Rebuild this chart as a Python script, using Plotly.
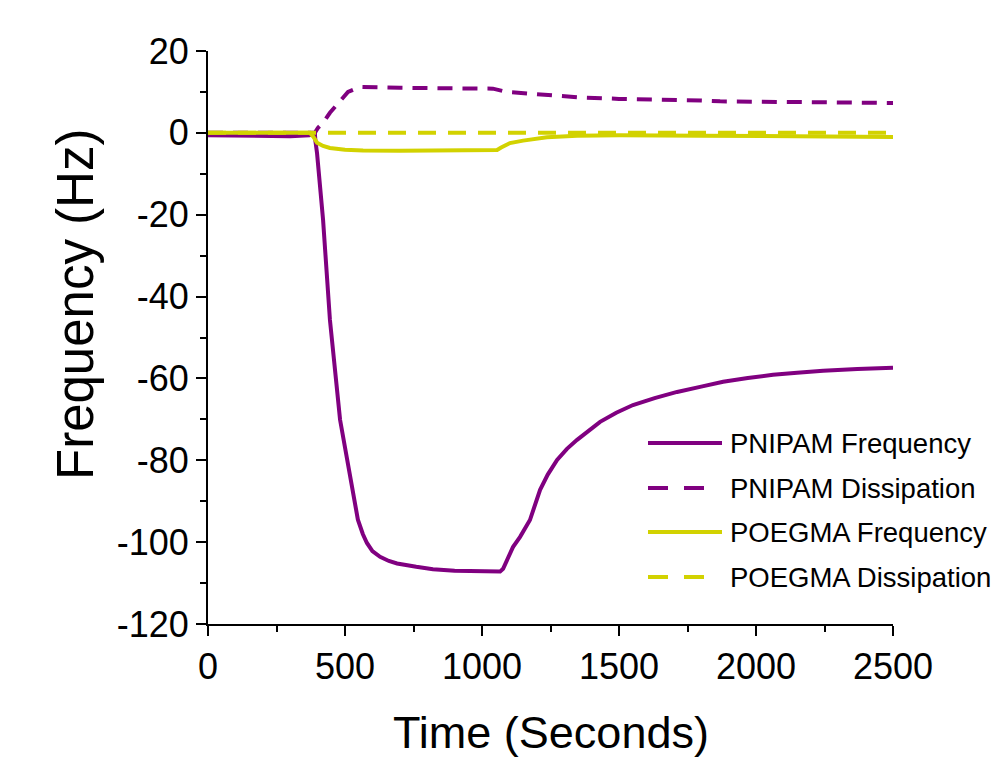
import plotly.graph_objects as go

# ---------------- data ----------------
pnipam_freq_t = [0, 100, 200, 300, 370, 390, 392, 398, 420, 445, 482, 526, 547, 565, 580,
                 600, 628, 660, 690, 760, 821, 900, 1000, 1066, 1077, 1102, 1113, 1139,
                 1175, 1212, 1240, 1274, 1310, 1347, 1390, 1431, 1490, 1551, 1630, 1712,
                 1800, 1880, 1970, 2062, 2150, 2245, 2370, 2500]
pnipam_freq_v = [-0.6, -0.7, -0.6, -0.8, -0.6, 0.0, -2.0, -5.0, -21.3, -45.7, -70.1, -86.5,
                 -94.5, -98.0, -100.2, -102.2, -103.6, -104.6, -105.2, -106.0, -106.6,
                 -107.0, -107.0, -107.2, -106.5, -102.6, -101.2, -98.7, -94.6, -87.2,
                 -83.5, -79.9, -77.2, -75.0, -72.6, -70.6, -68.4, -66.5, -64.8, -63.3,
                 -62.0, -60.8, -59.9, -59.1, -58.6, -58.1, -57.7, -57.4]

pnipam_diss_t = [0, 200, 390, 401, 420, 445, 470, 489, 511, 540, 562, 700, 900, 1040, 1091,
                 1186, 1285, 1347, 1500, 1613, 1800, 1869, 2124, 2300, 2500]
pnipam_diss_v = [0.0, 0.0, 0.0, 1.2, 2.5, 4.9, 6.8, 8.0, 10.0, 10.8, 11.2, 11.0, 10.9, 10.8,
                 10.0, 9.5, 9.0, 8.7, 8.3, 8.2, 7.9, 7.7, 7.6, 7.4, 7.3]

poegma_freq_t = [0, 100, 200, 300, 372, 385, 398, 420, 445, 500, 566, 700, 900, 1055, 1070,
                 1102, 1150, 1237, 1347, 1500, 1800, 2100, 2500]
poegma_freq_v = [0.0, 0.0, 0.0, 0.0, 0.0, -1.0, -2.4, -3.2, -3.7, -4.1, -4.3, -4.4, -4.4,
                 -4.2, -3.6, -2.5, -1.9, -1.1, -0.7, -0.6, -0.7, -0.8, -1.0]

poegma_diss_t = [0, 500, 1000, 1500, 2000, 2500]
poegma_diss_v = [0.0, 0.0, 0.0, 0.0, 0.0, 0.0]

series_names = ["PNIPAM Frequency", "PNIPAM Dissipation", "POEGMA Frequency", "POEGMA Dissipation"]

x_ticks = [0, 500, 1000, 1500, 2000, 2500]
y_ticks = [20, 0, -20, -40, -60, -80, -100, -120]

# ---------------- style ----------------
PURPLE = "#800080"
YELLOW = "#d2d200"
FONT = "Liberation Sans, Arial, sans-serif"
W, H = 1000, 764
L, R, T, B = 208, 107, 51, 140
PW, PH = W - L - R, H - T - B


def px(xp):
    return (xp - L) / PW


def py(yp):
    return (H - B - yp) / PH


fig = go.Figure()
fig.add_trace(go.Scatter(x=pnipam_freq_t, y=pnipam_freq_v, mode="lines", name=series_names[0],
                         line=dict(color=PURPLE, width=4)))
fig.add_trace(go.Scatter(x=pnipam_diss_t, y=pnipam_diss_v, mode="lines", name=series_names[1],
                         line=dict(color=PURPLE, width=4, dash="15px,10px")))
fig.add_trace(go.Scatter(x=poegma_freq_t, y=poegma_freq_v, mode="lines", name=series_names[2],
                         line=dict(color=YELLOW, width=4)))
fig.add_trace(go.Scatter(x=poegma_diss_t, y=poegma_diss_v, mode="lines", name=series_names[3],
                         line=dict(color=YELLOW, width=4, dash="18px,12px")))

axis_common = dict(
    showgrid=False, zeroline=False, showline=True, linecolor="black", linewidth=2,
    ticks="outside", ticklen=10, tickwidth=2, tickcolor="black",
    tickfont=dict(family=FONT, size=36, color="black"),
)
fig.update_xaxes(range=[0, 2500], tickvals=x_ticks, ticktext=[str(v) for v in x_ticks],
                 minor=dict(ticks="outside", ticklen=6, tickwidth=2, tickcolor="black",
                            tickvals=[250, 750, 1250, 1750, 2250], showgrid=False),
                 **axis_common)
fig.update_yaxes(range=[-120, 20], tickvals=y_ticks, ticktext=[str(v) for v in y_ticks],
                 minor=dict(ticks="outside", ticklen=6, tickwidth=2, tickcolor="black",
                            tickvals=[10, -10, -30, -50, -70, -90, -110], showgrid=False),
                 **axis_common)

annotations = [
    dict(text="Time (Seconds)", x=0.5, y=py(732), xref="paper", yref="paper",
         xanchor="center", yanchor="middle", showarrow=False,
         font=dict(family=FONT, size=45, color="black")),
    dict(text="Frequency (Hz)", x=px(75), y=py(305), xref="paper", yref="paper",
         xanchor="center", yanchor="middle", showarrow=False, textangle=-90,
         font=dict(family=FONT, size=51, color="black")),
]
shapes = []
legend_rows = [443, 488, 532, 577]
legend_styles = [(PURPLE, None), (PURPLE, "20px,16px"), (YELLOW, None), (YELLOW, "20px,16px")]
for name, yrow, (col, dash) in zip(series_names, legend_rows, legend_styles):
    x1 = 722 if dash is None else 704
    line = dict(color=col, width=4)
    if dash:
        line["dash"] = dash
    shapes.append(dict(type="line", xref="paper", yref="paper", x0=px(648), x1=px(x1),
                       y0=py(yrow), y1=py(yrow), line=line))
    annotations.append(dict(text=name, x=px(728), y=py(yrow), xref="paper", yref="paper",
                            xanchor="left", yanchor="middle", showarrow=False,
                            font=dict(family=FONT, size=27.5, color="black")))

fig.update_layout(
    width=W, height=H, autosize=False,
    margin=dict(l=L, r=R, t=T, b=B, pad=0),
    paper_bgcolor="white", plot_bgcolor="white",
    showlegend=False,
    annotations=annotations, shapes=shapes,
    font=dict(family=FONT, color="black"),
)

fig.write_html("out.html", config={"displayModeBar": False},
               post_script="document.body.style.margin='0';document.body.style.overflow='hidden';")
